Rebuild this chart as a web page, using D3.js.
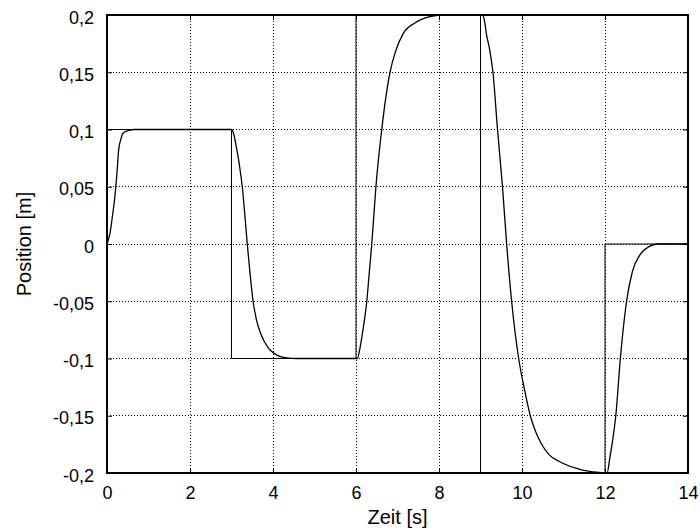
<!DOCTYPE html>
<html>
<head>
<meta charset="utf-8">
<script src="https://cdn.jsdelivr.net/npm/d3@7"></script>
<style>
  html, body { margin: 0; padding: 0; background: #fff; }
  svg { display: block; }
  text { font-family: "Liberation Sans", Arial, sans-serif; fill: #000; }
</style>
</head>
<body>
<svg id="chart" width="700" height="531"></svg>
<script>
// ---- data ----
const xTicks = [0, 2, 4, 6, 8, 10, 12, 14];
const yTicks = [-0.2, -0.15, -0.1, -0.05, 0, 0.05, 0.1, 0.15, 0.2];
const yTickLabels = ["-0,2", "-0,15", "-0,1", "-0,05", "0", "0,05", "0,1", "0,15", "0,2"];

// reference (setpoint) step signal
const stepTimes  = [0, 3, 6, 9, 12, 14];
const stepValues = [0.1, -0.1, 0.2, -0.2, 0, 0];

// measured response
const respTimes = [
  0, 0.03, 0.07, 0.13, 0.18, 0.22, 0.25, 0.28, 0.33, 0.39, 0.51, 0.67, 3.0,
  3.02, 3.06, 3.11, 3.16, 3.21, 3.26, 3.32, 3.38, 3.45, 3.52, 3.60, 3.70, 3.89, 4.09, 4.33, 4.57, 6.0,
  6.03, 6.10, 6.18, 6.26, 6.32, 6.38, 6.48, 6.62, 6.82, 6.95, 7.14, 7.42, 7.78, 8.05, 9.0,
  9.05, 9.10, 9.14, 9.22, 9.30, 9.41, 9.53, 9.63, 9.75, 9.92, 10.06, 10.20, 10.33, 10.46, 10.65, 10.90, 11.46, 11.86, 12.0,
  12.05, 12.12, 12.19, 12.26, 12.37, 12.52, 12.66, 12.85, 13.06, 13.26, 14.0
];
const respValues = [
  0, 0.0035, 0.009, 0.024, 0.038, 0.053, 0.067, 0.082, 0.091, 0.097, 0.099, 0.1, 0.1,
  0.0995, 0.095, 0.086, 0.076, 0.064, 0.05, 0.026, 0.0, -0.027, -0.05, -0.066, -0.078, -0.091, -0.097, -0.0995, -0.1, -0.1,
  -0.1, -0.09, -0.072, -0.05, -0.025, 0.0, 0.05, 0.1, 0.15, 0.168, 0.184, 0.193, 0.1985, 0.2, 0.2,
  0.2, 0.194, 0.184, 0.17, 0.15, 0.1, 0.05, 0.0, -0.05, -0.1, -0.127, -0.15, -0.164, -0.174, -0.184, -0.19, -0.1974, -0.1995, -0.2,
  -0.2, -0.186, -0.17, -0.15, -0.1, -0.05, -0.024, -0.009, -0.0023, 0, 0
];

// ---- layout ----
const svg = d3.select("#chart");
const L = 107, T = 15, W = 581, H = 458;
const x = d3.scaleLinear().domain([0, 14]).range([L, L + W]);
const y = d3.scaleLinear().domain([-0.2, 0.2]).range([T + H, T]);

// grid (dotted)
const grid = svg.append("g");
grid.selectAll("line.gx").data(xTicks.slice(1, -1)).join("line")
  .attr("x1", d => x(d)).attr("x2", d => x(d))
  .attr("y1", T).attr("y2", T + H)
  .attr("stroke", "#000").attr("stroke-width", 1)
  .attr("stroke-dasharray", "1,2").attr("shape-rendering", "crispEdges");
grid.selectAll("line.gy").data(yTicks.slice(1, -1)).join("line")
  .attr("x1", L).attr("x2", L + W)
  .attr("y1", d => y(d)).attr("y2", d => y(d))
  .attr("stroke", "#000").attr("stroke-width", 1)
  .attr("stroke-dasharray", "1,2").attr("shape-rendering", "crispEdges");

// clip
svg.append("defs").append("clipPath").attr("id", "clip")
  .append("rect").attr("x", L).attr("y", T - 1).attr("width", W).attr("height", H + 2);

const plot = svg.append("g").attr("clip-path", "url(#clip)");

// step reference
const stepData = stepTimes.map((t, i) => [t, stepValues[i]]);
plot.append("path")
  .datum(stepData)
  .attr("fill", "none").attr("stroke", "#000").attr("stroke-width", 1)
  .attr("d", d3.line().x(d => x(d[0])).y(d => y(d[1])).curve(d3.curveStepAfter));

// response
const respData = respTimes.map((t, i) => [t, respValues[i]]);
plot.append("path")
  .datum(respData)
  .attr("fill", "none").attr("stroke", "#000").attr("stroke-width", 1.3)
  .attr("stroke-linejoin", "round")
  .attr("d", d3.line().x(d => x(d[0])).y(d => y(d[1])).curve(d3.curveMonotoneX));

// axes with inward ticks
const axB = svg.append("g").attr("transform", `translate(0,${T + H})`)
  .call(d3.axisBottom(x).tickValues(xTicks).tickSize(-5).tickPadding(13).tickFormat(d3.format("d")));
const axT = svg.append("g").attr("transform", `translate(0,${T})`)
  .call(d3.axisTop(x).tickValues(xTicks).tickSize(-5).tickFormat(""));
const axL = svg.append("g").attr("transform", `translate(${L},0)`)
  .call(d3.axisLeft(y).tickValues(yTicks).tickSize(-5).tickPadding(13)
    .tickFormat((d, i) => yTickLabels[i]));
const axR = svg.append("g").attr("transform", `translate(${L + W},0)`)
  .call(d3.axisRight(y).tickValues(yTicks).tickSize(-5).tickFormat(""));

[axB, axT, axL, axR].forEach(a => {
  a.select(".domain").remove();
  a.selectAll(".tick line").attr("stroke", "#000").attr("stroke-width", 1);
  a.selectAll("text").style("font-family", "'Liberation Sans', Arial, sans-serif")
    .style("font-size", "18px").attr("fill", "#000");
});
axB.selectAll(".tick text").attr("dy", "0.71em");
axL.selectAll(".tick text").attr("dy", "0.45em");

// frame
svg.append("rect").attr("x", L).attr("y", T).attr("width", W).attr("height", H)
  .attr("fill", "none").attr("stroke", "#000").attr("stroke-width", 2);

// axis titles
svg.append("text").attr("x", L + W / 2).attr("y", 524)
  .attr("text-anchor", "middle").style("font-size", "20px").text("Zeit [s]");
svg.append("text")
  .attr("transform", `translate(31,${T + H / 2}) rotate(-90)`)
  .attr("text-anchor", "middle").style("font-size", "20px").text("Position [m]");
</script>
</body>
</html>
